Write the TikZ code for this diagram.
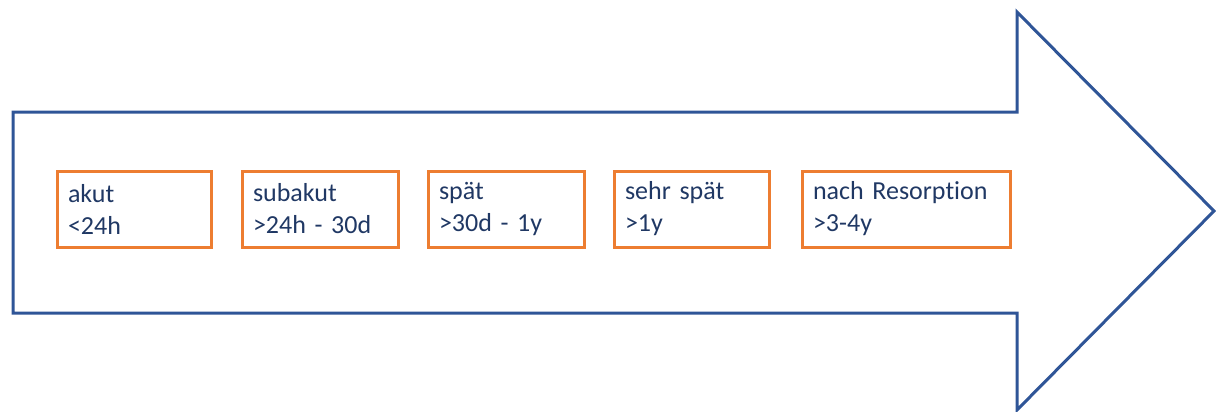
\documentclass[tikz,border=0pt]{standalone}
\usepackage{fontspec}
\setmainfont[Ligatures=NoCommon, WordSpace=0.85]{Carlito}
\definecolor{arrowblue}{RGB}{47,85,151}
\definecolor{boxorange}{RGB}{237,125,49}
\definecolor{textnavy}{RGB}{32,56,100}
\tikzset{
  arrowline/.style={draw=arrowblue, line width=3pt, line join=miter},
  phase/.style={draw=boxorange, line width=3pt, rectangle, align=left,
    text width=#1-22pt, inner xsep=11pt, inner ysep=0pt, minimum height=76pt,
    text=textnavy, font=\fontsize{26}{32}\selectfont, anchor=center},
}
\begin{document}
\begin{tikzpicture}[x=1pt,y=-1pt]
\useasboundingbox (0,0) rectangle (1216,412);
\draw[arrowline] (13,112) -- (1017,112) -- (1017,12) -- (1214,211) -- (1017,410) -- (1017,313) -- (13,313) -- cycle;
\node[phase=154pt] (b1) at (134,209) {akut\\<24h};
\node[phase=156pt] (b2) at (320,209) {subakut\\>24h - 30d};
\node[phase=156pt] (b3) at (506,209) {spät\\>30d - 1y};
\node[phase=155pt] (b4) at (691.5,209) {sehr spät\\>1y};
\node[phase=208pt] (b5) at (906,209) {nach Resorption\\>3-4y};
\end{tikzpicture}
\end{document}
